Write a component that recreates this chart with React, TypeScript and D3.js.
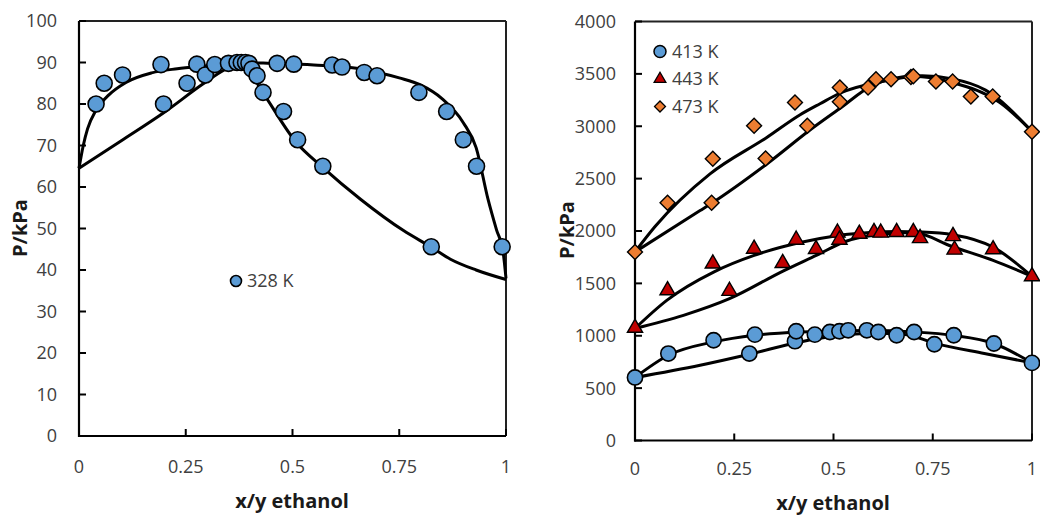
import React from "react";
import * as d3 from "d3";

// ---------- Data: left panel (328 K) ----------
const xTicksLeft = [0, 0.25, 0.5, 0.75, 1];
const yTicksLeft = [0, 10, 20, 30, 40, 50, 60, 70, 80, 90, 100];

const points328: [number, number][] = [
  [0.04, 80], [0.059, 85], [0.102, 87], [0.192, 89.5], [0.198, 80], [0.253, 85],
  [0.276, 89.6], [0.296, 87], [0.318, 89.5], [0.35, 89.8], [0.37, 90], [0.38, 90],
  [0.39, 90], [0.398, 89.8], [0.405, 88.4], [0.417, 86.8], [0.431, 82.8], [0.464, 89.8],
  [0.479, 78.2], [0.503, 89.6], [0.512, 71.4], [0.571, 65], [0.593, 89.4], [0.616, 88.9],
  [0.668, 87.6], [0.698, 86.8], [0.796, 82.8], [0.825, 45.6], [0.861, 78.2], [0.9, 71.4],
  [0.931, 65], [0.991, 45.6],
];
const liquid328: [number, number][] = [
  [0, 64.5], [0.01, 70], [0.02, 74], [0.04, 78.5], [0.07, 82.2], [0.11, 85.2], [0.17, 87.5],
  [0.23, 88.5], [0.3, 89.2], [0.38, 90], [0.45, 89.8], [0.55, 89.4], [0.65, 88.6], [0.7, 87.6],
  [0.75, 86.3], [0.8, 84.6], [0.85, 81.3], [0.9, 75.5], [0.93, 69.5], [0.958, 57],
  [0.978, 49.6], [0.993, 44.5], [1.0, 38],
];
const vapor328: [number, number][] = [
  [0, 64.5], [0.1, 71.2], [0.2, 78], [0.29, 84.8], [0.34, 88.2], [0.38, 90], [0.43, 82.8],
  [0.51, 70.6], [0.57, 64.8], [0.66, 57], [0.76, 49.5], [0.825, 45.5], [0.87, 42.6],
  [0.93, 40], [1.0, 37.7],
];

// ---------- Data: right panel (413 / 443 / 473 K) ----------
const xTicksRight = [0, 0.25, 0.5, 0.75, 1];
const yTicksRight = [0, 500, 1000, 1500, 2000, 2500, 3000, 3500, 4000];

const points413: [number, number][] = [
  [0, 602], [0.084, 830], [0.198, 957], [0.288, 830], [0.302, 1011], [0.403, 948],
  [0.406, 1043], [0.453, 1011], [0.491, 1036], [0.515, 1043], [0.537, 1052], [0.584, 1052],
  [0.613, 1036], [0.659, 1005], [0.703, 1036], [0.754, 919], [0.803, 1005], [0.904, 926],
  [1.0, 741],
];
const points443: [number, number][] = [
  [0, 1075], [0.082, 1433], [0.196, 1688], [0.238, 1427], [0.3, 1830], [0.372, 1693],
  [0.406, 1916], [0.456, 1827], [0.51, 1983], [0.515, 1916], [0.565, 1973], [0.602, 1989],
  [0.619, 1983], [0.659, 1989], [0.701, 1989], [0.718, 1931], [0.801, 1950], [0.805, 1821],
  [0.902, 1824], [1.0, 1567],
];
const points473: [number, number][] = [
  [0, 1800], [0.082, 2270], [0.193, 2270], [0.196, 2690], [0.3, 3005], [0.329, 2693],
  [0.403, 3227], [0.434, 3005], [0.516, 3370], [0.516, 3233], [0.587, 3370], [0.607, 3449],
  [0.645, 3449], [0.695, 3471], [0.701, 3478], [0.758, 3427], [0.8, 3427], [0.846, 3284],
  [0.901, 3284], [1.0, 2948],
];
const upper413: [number, number][] = [
  [0, 602], [0.084, 814], [0.198, 941], [0.302, 1005], [0.416, 1036], [0.5, 1045],
  [0.584, 1050], [0.703, 1036], [0.803, 1003], [0.904, 926], [1, 741],
];
const lower413: [number, number][] = [
  [0, 602], [0.164, 719], [0.288, 824], [0.416, 941], [0.5, 995], [0.6, 1025],
  [0.68, 1012], [0.754, 930], [0.88, 830], [1, 741],
];
const upper443: [number, number][] = [
  [0, 1070], [0.08, 1338], [0.198, 1608], [0.3, 1767], [0.416, 1890], [0.508, 1955],
  [0.6, 1988], [0.659, 1995], [0.72, 1990], [0.8, 1965], [0.902, 1846], [1, 1567],
];
const lower443: [number, number][] = [
  [0, 1070], [0.122, 1195], [0.238, 1354], [0.374, 1620], [0.458, 1770], [0.53, 1900],
  [0.617, 1970], [0.7, 1985], [0.8, 1850], [0.902, 1720], [1, 1567],
];
const upper473: [number, number][] = [
  [0, 1800], [0.05, 2040], [0.189, 2545], [0.332, 2893], [0.416, 3110], [0.466, 3215],
  [0.516, 3315], [0.631, 3433], [0.723, 3481], [0.8, 3452], [0.883, 3345], [1, 2950],
];
const lower473: [number, number][] = [
  [0, 1800], [0.164, 2195], [0.193, 2265], [0.332, 2640], [0.449, 2988], [0.516, 3170],
  [0.601, 3395], [0.701, 3478], [0.8, 3417], [0.919, 3227], [1, 2950],
];

const legendLabelsRight = ["413 K", "443 K", "473 K"];
const legendLabelLeft = "328 K";

// ---------- Styles ----------
const FONT = "'Open Sans', sans-serif";
const TICK_COLOR = "#404040";
const TITLE_COLOR = "#1a1a1a";
const BLUE = "#5B9BD5";
const RED = "#C00000";
const ORANGE = "#ED7D31";

const circlePath = (area: number) => d3.symbol().type(d3.symbolCircle).size(area)() as string;
const trianglePath = (area: number) => d3.symbol().type(d3.symbolTriangle).size(area)() as string;
const squarePath = (area: number) => d3.symbol().type(d3.symbolSquare).size(area)() as string;

export default function App() {
  const xL = d3.scaleLinear().domain([0, 1]).range([79, 506]);
  const yL = d3.scaleLinear().domain([0, 100]).range([436, 21]);
  const xR = d3.scaleLinear().domain([0, 1]).range([635, 1032]);
  const yR = d3.scaleLinear().domain([0, 4000]).range([440.5, 21.5]);

  const lineL = d3.line<[number, number]>().x(d => xL(d[0])).y(d => yL(d[1])).curve(d3.curveMonotoneX);
  const lineR = d3.line<[number, number]>().x(d => xR(d[0])).y(d => yR(d[1])).curve(d3.curveMonotoneX);

  const fmt = (v: number) => String(v);

  const cBig = circlePath(Math.PI * 8 * 8);
  const cRight = circlePath(Math.PI * 7.6 * 7.6);
  const tri = trianglePath(100);
  const dia = squarePath(112);

  const renderAxes = (
    x: d3.ScaleLinear<number, number>,
    y: d3.ScaleLinear<number, number>,
    xt: number[],
    yt: number[],
    yLabelRight: number,
    xLabelY: number,
  ) => {
    const [x0, x1] = x.range();
    const [y0, y1] = y.range();
    return (
      <g>
        <line x1={x0} x2={x1} y1={y1} y2={y1} stroke="#222" strokeWidth={2} />
        <line x1={x1} x2={x1} y1={y1} y2={y0} stroke="#222" strokeWidth={2} />
        <line x1={x0} x2={x0} y1={y1} y2={y0 + 1} stroke="#000" strokeWidth={2.2} />
        <line x1={x0 - 1} x2={x1} y1={y0} y2={y0} stroke="#000" strokeWidth={2.2} />
        {yt.map(v => (
          <g key={"y" + v}>
            <line x1={x0} x2={x0 + 7} y1={y(v)} y2={y(v)} stroke="#000" strokeWidth={2} />
            <text x={yLabelRight} y={y(v)} dy="0.36em" textAnchor="end" fontSize={18} fill={TICK_COLOR} fontFamily={FONT}>
              {fmt(v)}
            </text>
          </g>
        ))}
        {xt.map(v => (
          <g key={"x" + v}>
            <line x1={x(v)} x2={x(v)} y1={y0} y2={y0 - 7} stroke="#000" strokeWidth={2} />
            <text x={x(v)} y={xLabelY} textAnchor="middle" fontSize={18} fill={TICK_COLOR} fontFamily={FONT}>
              {fmt(v)}
            </text>
          </g>
        ))}
      </g>
    );
  };

  const curveStyle = { fill: "none", stroke: "#000", strokeWidth: 3, strokeLinejoin: "round" as const };

  return (
    <svg width={1040} height={523} style={{ position: "absolute", left: 0, top: 0, background: "#fff" }}>
      <rect x={0} y={0} width={1040} height={523} fill="#fff" />

      {/* ---------- Left panel ---------- */}
      {renderAxes(xL, yL, xTicksLeft, yTicksLeft, 57, 473)}
      <text transform="translate(26.5,228) rotate(-90)" textAnchor="middle" fontSize={20} fontWeight="bold" fill={TITLE_COLOR} fontFamily={FONT}>
        P/kPa
      </text>
      <text x={292} y={508} textAnchor="middle" fontSize={20} fontWeight="bold" fill={TITLE_COLOR} fontFamily={FONT}>
        x/y ethanol
      </text>
      <path d={lineL(liquid328) as string} {...curveStyle} />
      <path d={lineL(vapor328) as string} {...curveStyle} />
      {points328.map((d, i) => (
        <path key={"p328" + i} d={cBig} transform={`translate(${xL(d[0])},${yL(d[1])})`} fill={BLUE} stroke="#000" strokeWidth={1.6} />
      ))}
      <path d={circlePath(Math.PI * 5.5 * 5.5)} transform="translate(236,281)" fill={BLUE} stroke="#000" strokeWidth={1.6} />
      <text x={247} y={281} dy="0.36em" fontSize={18} fill={TICK_COLOR} fontFamily={FONT}>
        {legendLabelLeft}
      </text>

      {/* ---------- Right panel ---------- */}
      {renderAxes(xR, yR, xTicksRight, yTicksRight, 616, 475)}
      <text transform="translate(574,230) rotate(-90)" textAnchor="middle" fontSize={20} fontWeight="bold" fill={TITLE_COLOR} fontFamily={FONT}>
        P/kPa
      </text>
      <text x={833} y={510} textAnchor="middle" fontSize={20} fontWeight="bold" fill={TITLE_COLOR} fontFamily={FONT}>
        x/y ethanol
      </text>
      {[upper413, lower413, upper443, lower443, upper473, lower473].map((c, i) => (
        <path key={"c" + i} d={lineR(c) as string} {...curveStyle} />
      ))}
      {points413.map((d, i) => (
        <path key={"p413" + i} d={cRight} transform={`translate(${xR(d[0])},${yR(d[1])})`} fill={BLUE} stroke="#000" strokeWidth={1.6} />
      ))}
      {points443.map((d, i) => (
        <path key={"p443" + i} d={tri} transform={`translate(${xR(d[0])},${yR(d[1])})`} fill={RED} stroke="#000" strokeWidth={1.4} />
      ))}
      {points473.map((d, i) => (
        <path key={"p473" + i} d={dia} transform={`translate(${xR(d[0])},${yR(d[1])}) rotate(45)`} fill={ORANGE} stroke="#000" strokeWidth={1.4} />
      ))}

      <path d={circlePath(Math.PI * 6 * 6)} transform="translate(660,51.5)" fill={BLUE} stroke="#000" strokeWidth={1.5} />
      <path d={trianglePath(60)} transform="translate(660,79)" fill={RED} stroke="#000" strokeWidth={1.3} />
      <path d={squarePath(60)} transform="translate(660,106.5) rotate(45)" fill={ORANGE} stroke="#000" strokeWidth={1.3} />
      {legendLabelsRight.map((t, i) => (
        <text key={t} x={672} y={51.5 + i * 27.5} dy="0.36em" fontSize={18} fill={TICK_COLOR} fontFamily={FONT}>
          {t}
        </text>
      ))}
    </svg>
  );
}
